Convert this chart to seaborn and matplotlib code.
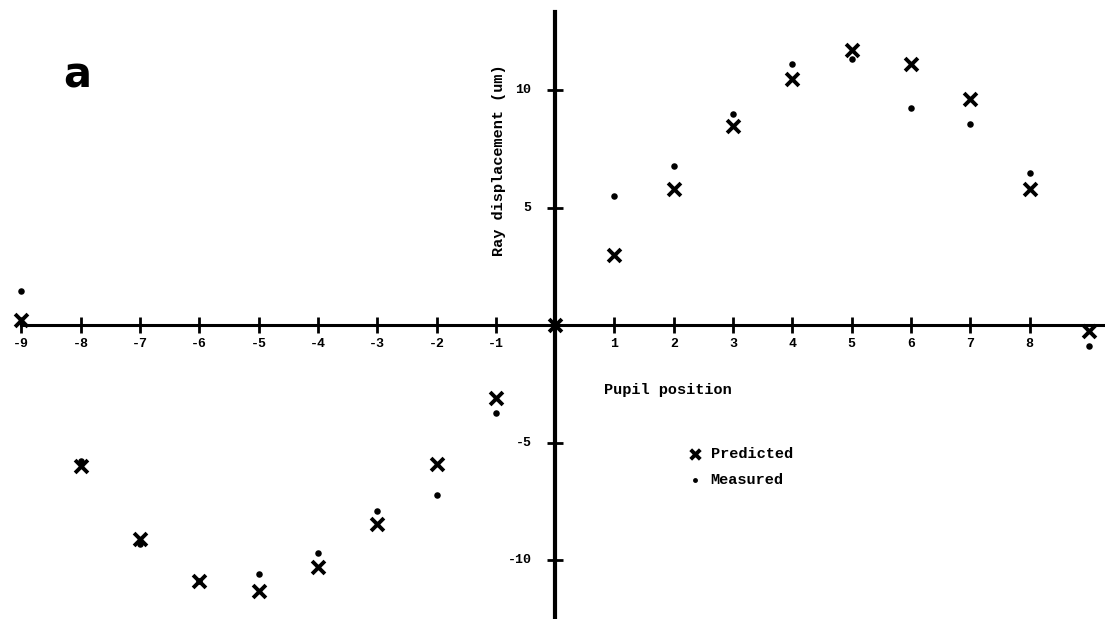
import matplotlib
matplotlib.use("Agg")
import matplotlib.pyplot as plt
import seaborn as sns
import pandas as pd

# Pupil positions and ray displacements (um)
pupil_position = [-9, -8, -7, -6, -5, -4, -3, -2, -1, 0, 1, 2, 3, 4, 5, 6, 7, 8, 9]
predicted = [0.2, -6.0, -9.1, -10.9, -11.3, -10.3, -8.45, -5.9, -3.1, 0.0,
             3.0, 5.8, 8.45, 10.45, 11.7, 11.1, 9.6, 5.8, -0.25]
measured_position = [-9, -8, -7, -6, -5, -4, -3, -2, -1, 1, 2, 3, 4, 5, 6, 7, 8, 9]
measured = [1.45, -5.8, -9.3, -10.9, -10.6, -9.7, -7.9, -7.25, -3.75,
            5.5, 6.75, 9.0, 11.1, 11.3, 9.25, 8.55, 6.45, -0.9]

x_ticks = [-9, -8, -7, -6, -5, -4, -3, -2, -1, 1, 2, 3, 4, 5, 6, 7, 8]
y_ticks = [-10, -5, 5, 10]

pred_df = pd.DataFrame({"pos": pupil_position, "disp": predicted})
meas_df = pd.DataFrame({"pos": measured_position, "disp": measured})

sns.set_style("white")
plt.rcParams["text.color"] = "black"
mono = ["Liberation Mono", "DejaVu Sans Mono"]

fig = plt.figure(figsize=(11.05, 6.19), dpi=100)
ax = fig.add_axes([0, 0, 1, 1])
ax.set_xlim(-9.36, 9.27)
ax.set_ylim(-12.51, 13.83)

sns.scatterplot(data=pred_df, x="pos", y="disp", marker="x", s=85,
                color="black", linewidth=2.8, ax=ax, label="Predicted", zorder=3)
sns.scatterplot(data=meas_df, x="pos", y="disp", marker="o", s=22,
                color="black", edgecolor="black", linewidth=0, ax=ax,
                label="Measured", zorder=3)

# Axes crossing at the origin
for side in ["top", "right"]:
    ax.spines[side].set_visible(False)
ax.spines["left"].set_position(("data", 0))
ax.spines["bottom"].set_position(("data", 0))
ax.spines["left"].set_linewidth(3)
ax.spines["bottom"].set_linewidth(2.2)
ax.spines["left"].set_color("black")
ax.spines["bottom"].set_color("black")
ax.spines["left"].set_bounds(-12.51, 13.3)
ax.spines["bottom"].set_bounds(-9, 9.27)

ax.set_xticks(x_ticks)
ax.set_yticks(y_ticks)
ax.tick_params(axis="both", direction="inout", length=11, width=2,
               bottom=True, left=True, labelbottom=False, labelleft=False,
               color="black")
ax.set_xlabel("")
ax.set_ylabel("")

for t in x_ticks:
    ax.text(t, -0.55, str(t), ha="center", va="top", family=mono,
            fontsize=9.5, fontweight="bold")
for t in y_ticks:
    ax.text(-0.4, t, str(t), ha="right", va="center", family=mono,
            fontsize=9.5, fontweight="bold")

ax.text(-0.94, 7.0, "Ray displacement (um)", rotation=90, ha="center",
        va="center", family=mono, fontsize=11, fontweight="bold")
ax.text(0.82, -2.75, "Pupil position", ha="left", va="center", family=mono,
        fontsize=11, fontweight="bold")
ax.text(-8.05, 10.6, "a", ha="center", va="center", fontsize=30,
        fontweight="bold", family="DejaVu Sans")

leg = ax.legend(loc="upper left", bbox_to_anchor=(0.610, 0.300), frameon=False,
                prop={"family": mono, "size": 11, "weight": "bold"},
                handletextpad=0.5, labelspacing=0.8, handlelength=1.0,
                markerscale=0.75)

fig.savefig("out.png", dpi=100, facecolor="white")
